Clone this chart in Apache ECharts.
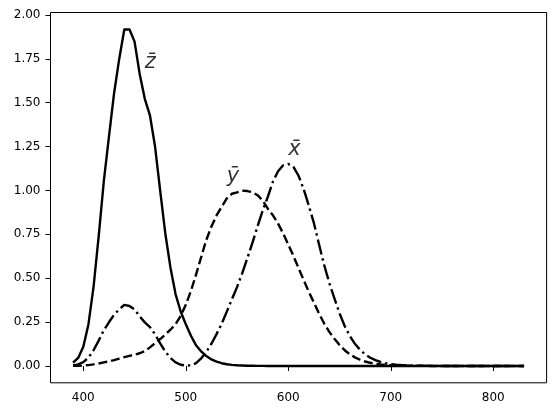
<!DOCTYPE html>
<html>
<head>
<meta charset="utf-8">
<script src="https://cdn.jsdelivr.net/npm/echarts@6/dist/echarts.min.js"></script>
<style>
  html, body { margin: 0; padding: 0; background: #fff; }
  #chart { width: 556px; height: 416px; }
</style>
</head>
<body>
<div id="chart"></div>
<script>
// wavelength (nm), 5 nm steps
const wavelengths = [
  390, 395, 400, 405, 410, 415, 420, 425, 430, 435,
  440, 445, 450, 455, 460, 465, 470, 475, 480, 485,
  490, 495, 500, 505, 510, 515, 520, 525, 530, 535,
  540, 545, 550, 555, 560, 565, 570, 575, 580, 585,
  590, 595, 600, 605, 610, 615, 620, 625, 630, 635,
  640, 645, 650, 655, 660, 665, 670, 675, 680, 685,
  690, 695, 700, 705, 710, 715, 720, 725, 730, 735,
  740, 745, 750, 755, 760, 765, 770, 775, 780, 785,
  790, 795, 800, 805, 810, 815, 820, 825, 830
];

const xBar = [
  0.0038, 0.0094, 0.0221, 0.0474, 0.0895, 0.1446, 0.2036, 0.2489, 0.2918, 0.3227,
  0.3483, 0.3418, 0.3225, 0.2827, 0.2485, 0.2220, 0.1807, 0.1292, 0.0818, 0.0460,
  0.0208, 0.0071, 0.0025, 0.0036, 0.0156, 0.0432, 0.0796, 0.1268, 0.1818, 0.2405,
  0.3098, 0.3804, 0.4494, 0.5280, 0.6134, 0.7017, 0.7968, 0.8853, 0.9638, 1.0510,
  1.1098, 1.1436, 1.1510, 1.1348, 1.0839, 1.0073, 0.9143, 0.8136, 0.6925, 0.5755,
  0.4731, 0.3845, 0.2997, 0.2278, 0.1708, 0.1264, 0.0922, 0.0664, 0.0471, 0.0329,
  0.0226, 0.0158, 0.0110, 0.0076, 0.0052, 0.0036, 0.0025, 0.0017, 0.0012, 0.0008,
  0.0006, 0.0004, 0.0003, 0.0002, 0.0001, 0.0001, 0.0001, 0.0001, 0, 0,
  0, 0, 0, 0, 0, 0, 0, 0, 0
];

const yBar = [
  0.0004, 0.0011, 0.0025, 0.0050, 0.0091, 0.0143, 0.0203, 0.0261, 0.0332, 0.0416,
  0.0503, 0.0574, 0.0647, 0.0724, 0.0851, 0.1060, 0.1299, 0.1535, 0.1788, 0.2065,
  0.2379, 0.2851, 0.3484, 0.4278, 0.5205, 0.6206, 0.7181, 0.7946, 0.8576, 0.9071,
  0.9545, 0.9814, 0.9890, 0.9995, 0.9968, 0.9903, 0.9733, 0.9425, 0.8964, 0.8587,
  0.8116, 0.7545, 0.6919, 0.6270, 0.5584, 0.4896, 0.4230, 0.3609, 0.2981, 0.2417,
  0.1943, 0.1547, 0.1193, 0.0898, 0.0667, 0.0490, 0.0356, 0.0255, 0.0181, 0.0126,
  0.0087, 0.0060, 0.0042, 0.0029, 0.0020, 0.0014, 0.0009, 0.0007, 0.0005, 0.0003,
  0.0002, 0.0002, 0.0001, 0.0001, 0.0001, 0, 0, 0, 0, 0,
  0, 0, 0, 0, 0, 0, 0, 0, 0
];

const zBar = [
  0.0185, 0.0461, 0.1096, 0.2369, 0.4508, 0.7379, 1.0518, 1.3050, 1.5528, 1.7483,
  1.9175, 1.9184, 1.8485, 1.6644, 1.5222, 1.4284, 1.2506, 0.9992, 0.7552, 0.5617,
  0.4099, 0.3106, 0.2377, 0.1720, 0.1177, 0.0828, 0.0565, 0.0375, 0.0244, 0.0157,
  0.0098, 0.0061, 0.0038, 0.0023, 0.0014, 0.0009, 0.0005, 0.0003, 0.0002, 0.0001,
  0.0001, 0.0001, 0, 0, 0, 0, 0, 0, 0, 0,
  0, 0, 0, 0, 0, 0, 0, 0, 0, 0,
  0, 0, 0, 0, 0, 0, 0, 0, 0, 0,
  0, 0, 0, 0, 0, 0, 0, 0, 0, 0,
  0, 0, 0, 0, 0, 0, 0, 0, 0
];

const xTicks = [400, 500, 600, 700, 800];
const yTicks = [0, 0.25, 0.5, 0.75, 1.0, 1.25, 1.5, 1.75, 2.0];

// curve labels: [text, wavelength, value]
const curveLabels = [
  ['z\u0304', 460, 1.70],
  ['y\u0304', 540, 1.05],
  ['x\u0304', 600, 1.20],
];

const FONT = 'DejaVu Sans';

function pairs(vals) {
  return wavelengths.map((w, i) => [w, vals[i]]);
}

function makeLine(name, vals, dash) {
  return {
    name: name,
    type: 'line',
    data: pairs(vals),
    showSymbol: false,
    symbol: 'none',
    smooth: false,
    silent: true,
    lineStyle: {
      color: '#000',
      width: 2.4,
      type: dash,
      cap: 'butt',
      join: 'round',
    },
  };
}

const chart = echarts.init(document.getElementById('chart'), null, {renderer: 'canvas'});

const option = {
  animation: false,
  backgroundColor: '#fff',
  grid: {
    left: 50.5,
    right: 9.4,
    top: 12.5,
    bottom: 33.2,
    show: true,
    borderColor: '#000',
    borderWidth: 1,
    backgroundColor: 'transparent',
  },
  xAxis: {
    type: 'value',
    min: 368,
    max: 852,
    splitLine: {show: false},
    axisLine: {show: false},
    axisTick: {
      show: true,
      inside: false,
      length: 5,
      lineStyle: {color: '#000', width: 1},
      customValues: xTicks,
    },
    axisLabel: {
      show: true,
      color: '#000',
      fontFamily: FONT,
      fontSize: 12,
      margin: 9,
      customValues: xTicks,
      formatter: (v) => String(v),
    },
  },
  yAxis: {
    type: 'value',
    min: -0.0959,
    max: 2.0143,
    splitLine: {show: false},
    axisLine: {show: false},
    axisTick: {
      show: true,
      inside: false,
      length: 5,
      lineStyle: {color: '#000', width: 1},
      customValues: yTicks,
    },
    axisLabel: {
      show: true,
      color: '#000',
      fontFamily: FONT,
      fontSize: 12,
      margin: 10,
      customValues: yTicks,
      formatter: (v) => v.toFixed(2),
    },
  },
  series: [
    makeLine('zbar', zBar, 'solid'),
    makeLine('ybar', yBar, [8.9, 3.9]),
    makeLine('xbar', xBar, [15.5, 3.9, 2.4, 3.9]),
    {
      name: 'labels',
      type: 'scatter',
      silent: true,
      symbolSize: 0,
      data: curveLabels.map(l => ({value: [l[1], l[2]], name: l[0]})),
      label: {
        show: true,
        position: [0, 0],
        align: 'left',
        verticalAlign: 'bottom',
        offset: [0, 5],
        formatter: (p) => p.name,
        color: '#000',
        fontFamily: FONT,
        fontStyle: 'italic',
        fontSize: 21,
      },
    },
  ],
};

chart.setOption(option);
</script>
</body>
</html>
